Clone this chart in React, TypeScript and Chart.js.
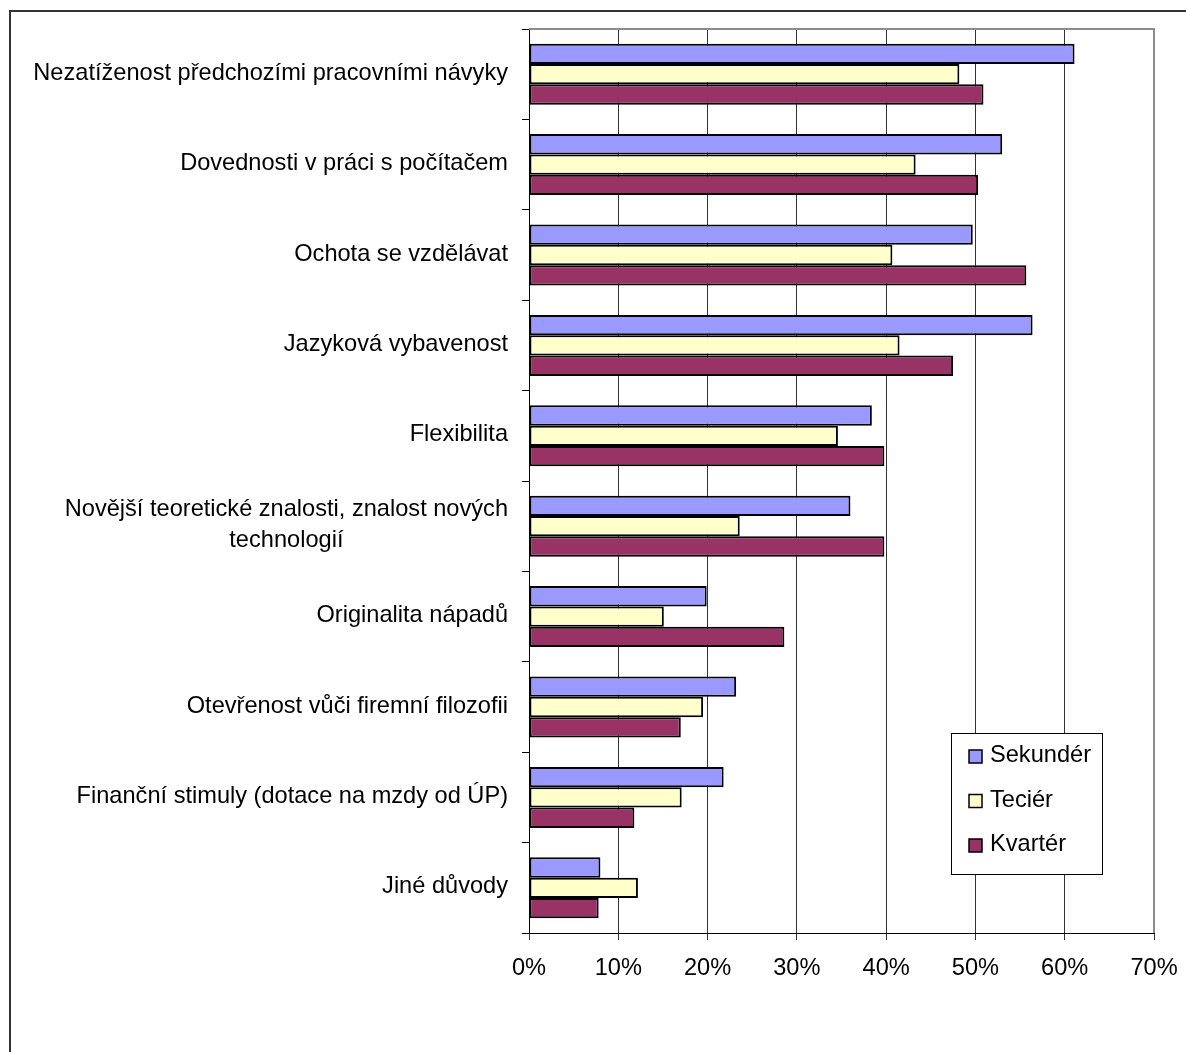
import React, { useEffect, useRef } from "react";
import { Chart, registerables } from "chart.js";

Chart.register(...registerables);

// Důvody zaměstnávání absolventů podle sektoru (v %)
const categories: (string | string[])[] = [
  "Nezatíženost předchozími pracovními návyky",
  "Dovednosti v práci s počítačem",
  "Ochota se vzdělávat",
  "Jazyková vybavenost",
  "Flexibilita",
  ["Novější teoretické znalosti, znalost nových", "technologií"],
  "Originalita nápadů",
  "Otevřenost vůči firemní filozofii",
  "Finanční stimuly (dotace na mzdy od ÚP)",
  "Jiné důvody",
];

const sekunder = [61.1, 53.0, 49.7, 56.4, 38.4, 36.0, 19.9, 23.2, 21.8, 8.0];
const tercier = [48.2, 43.3, 40.7, 41.5, 34.6, 23.6, 15.1, 19.5, 17.1, 12.2];
const kvarter = [50.9, 50.3, 55.7, 47.5, 39.8, 39.8, 28.6, 17.0, 11.8, 7.8];

const seriesNames = ["Sekundér", "Teciér", "Kvartér"];
const seriesColors = ["#9999FF", "#FFFFCC", "#993366"];

const xMin = 0;
const xMax = 70;
const xStep = 10;

const FONT = '"Liberation Sans", Arial, Helvetica, sans-serif';
const FONT_SIZE = 23.6;

// White page with the outer frame of the chart object
const framePlugin = {
  id: "frame",
  beforeDraw(chart: any) {
    const { ctx, width, height } = chart;
    ctx.save();
    ctx.fillStyle = "#fff";
    ctx.fillRect(0, 0, width, height);
    ctx.strokeStyle = "#333";
    ctx.lineWidth = 2;
    ctx.strokeRect(10, 11, width + 20, height + 20);
    ctx.restore();
  },
};

// Grey top and right edges of the plot area
const plotEdgePlugin = {
  id: "plotEdge",
  beforeDatasetsDraw(chart: any) {
    const { ctx, chartArea } = chart;
    ctx.save();
    ctx.strokeStyle = "#8c8c8c";
    ctx.lineWidth = 2;
    ctx.beginPath();
    ctx.moveTo(chartArea.left, chartArea.top);
    ctx.lineTo(chartArea.right, chartArea.top);
    ctx.lineTo(chartArea.right, chartArea.bottom);
    ctx.stroke();
    ctx.restore();
  },
};

// Category names: block right-aligned to the axis, wrapped lines centred
const categoryLabelPlugin = {
  id: "categoryLabels",
  afterDraw(chart: any) {
    const { ctx, chartArea } = chart;
    const yScale = chart.scales.y;
    const right = chartArea.left - 21;
    const lineHeight = 31;
    ctx.save();
    ctx.font = `${FONT_SIZE}px ${FONT}`;
    ctx.fillStyle = "#000";
    ctx.textBaseline = "middle";
    ctx.textAlign = "center";
    (chart.data.labels as (string | string[])[]).forEach((label, i) => {
      const lines = Array.isArray(label) ? label : [label];
      const widest = Math.max(...lines.map((l) => ctx.measureText(l).width));
      const cx = right - widest / 2;
      const cy = yScale.getPixelForValue(i) - 1;
      lines.forEach((line, k) => {
        ctx.fillText(line, cx, cy + (k - (lines.length - 1) / 2) * lineHeight);
      });
    });
    ctx.restore();
  },
};

// Boxed legend placed inside the plot area, lower right
const boxLegendPlugin = {
  id: "boxLegend",
  afterDraw(chart: any) {
    const { ctx } = chart;
    const left = 951;
    const top = 733;
    const w = 151;
    const h = 141;
    ctx.save();
    ctx.fillStyle = "#fff";
    ctx.fillRect(left, top, w, h);
    ctx.strokeStyle = "#000";
    ctx.lineWidth = 1;
    ctx.strokeRect(left + 0.5, top + 0.5, w, h);
    ctx.font = `${FONT_SIZE}px ${FONT}`;
    ctx.textBaseline = "middle";
    ctx.textAlign = "left";
    chart.data.datasets.forEach((ds: any, i: number) => {
      const cy = 756.5 + i * 44.5;
      ctx.fillStyle = ds.backgroundColor;
      ctx.fillRect(969, cy - 6.5, 13, 13);
      ctx.strokeStyle = "#000";
      ctx.lineWidth = 1.5;
      ctx.strokeRect(969, cy - 6.5, 13, 13);
      ctx.fillStyle = "#000";
      ctx.fillText(ds.label, 990, cy - 1);
    });
    ctx.restore();
  },
};

export default function App() {
  const canvasRef = useRef<HTMLCanvasElement | null>(null);

  useEffect(() => {
    const canvas = canvasRef.current;
    if (!canvas) return;
    const seriesValues = [sekunder, tercier, kvarter];
    const chart = new Chart(canvas, {
      type: "bar",
      data: {
        labels: categories as any,
        datasets: seriesValues.map((values, i) => ({
          label: seriesNames[i],
          data: values,
          backgroundColor: seriesColors[i],
          borderColor: "#000",
          borderWidth: 2,
          borderSkipped: false,
          categoryPercentage: 0.675,
          barPercentage: 1.0,
        })),
      },
      options: {
        indexAxis: "y",
        animation: false,
        responsive: false,
        devicePixelRatio: 1,
        layout: { padding: { top: 29, right: 32, bottom: 59, left: 0 } },
        plugins: {
          legend: { display: false },
          tooltip: { enabled: false },
          title: { display: false },
        },
        scales: {
          x: {
            type: "linear",
            position: "bottom",
            min: xMin,
            max: xMax,
            ticks: {
              stepSize: xStep,
              callback: (v: any) => `${v}%`,
              color: "#000",
              font: { family: FONT, size: FONT_SIZE },
              padding: 14,
              maxRotation: 0,
              autoSkip: false,
            },
            grid: {
              color: "#333",
              lineWidth: 1,
              drawTicks: true,
              tickLength: 7,
            },
            border: { display: true, color: "#000", width: 1 },
            afterFit: (scale: any) => {
              scale.height = 60;
              scale.paddingLeft = 0;
              scale.paddingRight = 0;
            },
          },
          y: {
            type: "category",
            offset: true,
            ticks: { display: false },
            grid: {
              offset: true,
              drawOnChartArea: false,
              drawTicks: true,
              tickLength: 7,
              color: "#000",
              lineWidth: 1,
            },
            border: { display: true, color: "#000", width: 1 },
            afterFit: (scale: any) => {
              scale.width = 529;
            },
          },
        },
      },
      plugins: [framePlugin, plotEdgePlugin, categoryLabelPlugin, boxLegendPlugin],
    });
    return () => chart.destroy();
  }, []);

  return (
    <div style={{ position: "fixed", left: 0, top: 0, width: 1186, height: 1052, overflow: "hidden", background: "#fff" }}>
      <canvas ref={canvasRef} width={1186} height={1052} style={{ display: "block", width: 1186, height: 1052 }} />
    </div>
  );
}
